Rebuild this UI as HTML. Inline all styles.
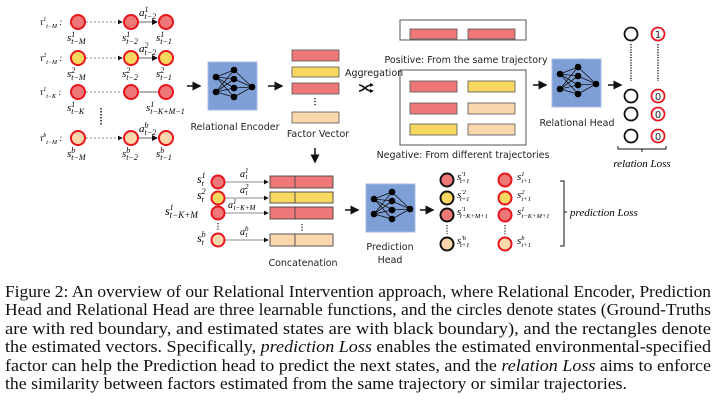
<!DOCTYPE html>
<html><head><meta charset="utf-8"><style>
html,body{margin:0;padding:0;background:#fff;width:720px;height:404px;overflow:hidden}
svg{display:block}
.s{font-family:"Liberation Serif",serif;font-style:italic;font-size:11px}
.l{font-family:"DejaVu Sans","Liberation Sans",sans-serif;font-size:9.5px;fill:#222}
.c{font-family:"Liberation Serif",serif;font-size:17px;fill:#111}
</style></head><body>
<svg width="720" height="404" viewBox="0 0 720 404" xmlns="http://www.w3.org/2000/svg">
<defs>
<marker id="a" markerWidth="6" markerHeight="6" refX="5" refY="3" orient="auto"><path d="M0,0L6,3L0,6z" fill="#111"/></marker>
<g id="net">
<rect x="0" y="0" width="49" height="48" fill="#7d9fd6" stroke="#a9bde6"/>
<g stroke="#111" stroke-width="0.8">
<path d="M8,15L26,8M8,15L26,17M8,15L26,26M8,15L26,35M8,30L26,8M8,30L26,17M8,30L26,26M8,30L26,35M26,8L44,25M26,17L44,25M26,26L44,25M26,35L44,25"/>
</g>
<g fill="#000"><circle cx="8" cy="15" r="3.3"/><circle cx="8" cy="30" r="3.3"/><circle cx="26" cy="8" r="3.3"/><circle cx="26" cy="17" r="3.3"/><circle cx="26" cy="26" r="3.3"/><circle cx="26" cy="35" r="3.3"/><circle cx="44" cy="25" r="3.3"/></g>
</g>
</defs>

<!-- left trajectories -->
<g stroke-width="2" stroke="#e8141c">
<circle cx="78" cy="22" r="7" fill="#ee7878"/><circle cx="131" cy="22" r="7" fill="#ee7878"/><circle cx="166" cy="22" r="7" fill="#ee7878"/>
<circle cx="78" cy="58" r="7" fill="#f8d860"/><circle cx="131" cy="58" r="7" fill="#f8d860"/><circle cx="166" cy="58" r="7" fill="#f8d860"/>
<circle cx="78" cy="92" r="7" fill="#ee7878"/><circle cx="131" cy="92" r="7" fill="#ee7878"/><circle cx="166" cy="92" r="7" fill="#ee7878"/>
<circle cx="78" cy="138" r="7" fill="#fbd7ad"/><circle cx="131" cy="138" r="7" fill="#fbd7ad"/><circle cx="166" cy="138" r="7" fill="#fbd7ad"/>
</g>
<g stroke="#666" stroke-width="0.8" stroke-dasharray="2,2">
<line x1="86" y1="22" x2="122" y2="22" marker-end="url(#a)"/><line x1="86" y1="58" x2="122" y2="58" marker-end="url(#a)"/><line x1="86" y1="92" x2="122" y2="92"/><line x1="86" y1="138" x2="122" y2="138" marker-end="url(#a)"/>
</g>
<g stroke="#666" stroke-width="1"><line x1="139" y1="22" x2="157" y2="22" marker-end="url(#a)"/><line x1="139" y1="58" x2="157" y2="58" marker-end="url(#a)"/><line x1="139" y1="92" x2="158" y2="92"/><line x1="139" y1="138" x2="157" y2="138" marker-end="url(#a)"/></g>
<line x1="101" y1="108" x2="101" y2="125" stroke="#111" stroke-width="1.5" stroke-dasharray="1.5,1.5"/>
<g class="s">
<text x="40" y="25" font-size="9">τ<tspan font-size="6" dy="-4">1</tspan><tspan font-size="6" dy="7">t−M</tspan><tspan dy="-3"> :</tspan></text>
<text x="40" y="61" font-size="9">τ<tspan font-size="6" dy="-4">2</tspan><tspan font-size="6" dy="7">t−M</tspan><tspan dy="-3"> :</tspan></text>
<text x="40" y="95" font-size="9">τ<tspan font-size="6" dy="-4">1</tspan><tspan font-size="6" dy="7">t−K</tspan><tspan dy="-3"> :</tspan></text>
<text x="40" y="141" font-size="9">τ<tspan font-size="6" dy="-4">b</tspan><tspan font-size="6" dy="7">t−M</tspan><tspan dy="-3"> :</tspan></text>
<text x="67" y="41">s<tspan font-size="8" dy="-4">1</tspan><tspan font-size="8" dx="-4" dy="7">t−M</tspan></text>
<text x="122" y="41">s<tspan font-size="8" dy="-4">1</tspan><tspan font-size="8" dx="-4" dy="7">t−2</tspan></text>
<text x="156" y="41">s<tspan font-size="8" dy="-4">1</tspan><tspan font-size="8" dx="-4" dy="7">t−1</tspan></text>
<text x="139" y="16">a<tspan font-size="8" dy="-4">1</tspan><tspan font-size="8" dx="-4" dy="7">t−2</tspan></text>
<text x="67" y="77">s<tspan font-size="8" dy="-4">2</tspan><tspan font-size="8" dx="-4" dy="7">t−M</tspan></text>
<text x="122" y="77">s<tspan font-size="8" dy="-4">2</tspan><tspan font-size="8" dx="-4" dy="7">t−2</tspan></text>
<text x="156" y="77">s<tspan font-size="8" dy="-4">2</tspan><tspan font-size="8" dx="-4" dy="7">t−1</tspan></text>
<text x="139" y="52">a<tspan font-size="8" dy="-4">2</tspan><tspan font-size="8" dx="-4" dy="7">t−2</tspan></text>
<text x="67" y="111">s<tspan font-size="8" dy="-4">1</tspan><tspan font-size="8" dx="-4" dy="7">t−K</tspan></text>
<text x="146" y="111">s<tspan font-size="8" dy="-4">1</tspan><tspan font-size="8" dx="-4" dy="7">t−K+M−1</tspan></text>
<text x="67" y="157">s<tspan font-size="8" dy="-4">b</tspan><tspan font-size="8" dx="-4" dy="7">t−M</tspan></text>
<text x="122" y="157">s<tspan font-size="8" dy="-4">b</tspan><tspan font-size="8" dx="-4" dy="7">t−2</tspan></text>
<text x="156" y="157">s<tspan font-size="8" dy="-4">b</tspan><tspan font-size="8" dx="-4" dy="7">t−1</tspan></text>
<text x="139" y="132">a<tspan font-size="8" dy="-4">b</tspan><tspan font-size="8" dx="-4" dy="7">t−2</tspan></text>
</g>

<!-- encoder -->
<g stroke="#111" stroke-width="1.5" marker-end="url(#a)">
<line x1="187" y1="86" x2="200" y2="86"/><line x1="268" y1="86" x2="282" y2="86"/>
<line x1="533" y1="85" x2="546" y2="85"/><line x1="608" y1="85" x2="621" y2="85"/>
<line x1="315" y1="148" x2="315" y2="162"/>
<line x1="345" y1="210" x2="358" y2="210"/><line x1="420" y1="210" x2="433" y2="210"/>
</g>
<use href="#net" x="208" y="62"/>
<text class="l" x="235" y="130" text-anchor="middle">Relational Encoder</text>
<g stroke="#555" stroke-width="0.8">
<rect x="292" y="50" width="47" height="11" fill="#ee7878"/><rect x="292" y="67" width="47" height="10" fill="#f8d860"/><rect x="292" y="83" width="47" height="11" fill="#ee7878"/><rect x="292" y="112" width="47" height="11" fill="#fbd7ad"/>
</g>
<line x1="315" y1="98" x2="315" y2="107" stroke="#111" stroke-width="1.3" stroke-dasharray="1.3,1.7"/>
<text class="l" x="318" y="137" text-anchor="middle">Factor Vector</text>
<text class="l" x="345" y="76" font-size="8.5">Aggregation</text>
<path d="M359,85 C364,85 366,91 371,91 M359,91 C364,91 366,85 371,85" stroke="#111" stroke-width="1.6" fill="none"/>
<path d="M370,83L374,85L370,87zM370,89L374,91L370,93z" fill="#111"/>

<!-- positive/negative -->
<g stroke="#555" stroke-width="1" fill="none"><rect x="400" y="20" width="126" height="20"/><rect x="400" y="70" width="126" height="75"/></g>
<g stroke="#555" stroke-width="0.8">
<rect x="410" y="29" width="47" height="10" fill="#ee7878"/><rect x="468" y="29" width="47" height="10" fill="#ee7878"/>
<rect x="410" y="81" width="47" height="11" fill="#ee7878"/><rect x="468" y="81" width="47" height="11" fill="#f8d860"/>
<rect x="410" y="103" width="47" height="11" fill="#ee7878"/><rect x="468" y="103" width="47" height="11" fill="#fbd7ad"/>
<rect x="410" y="124" width="47" height="11" fill="#f8d860"/><rect x="468" y="124" width="47" height="11" fill="#fbd7ad"/>
</g>
<text class="l" x="466" y="63" text-anchor="middle">Positive: From the same trajectory</text>
<text class="l" x="463" y="158" text-anchor="middle">Negative: From different trajectories</text>
<use href="#net" x="552" y="59"/>
<text class="l" x="577" y="126" text-anchor="middle">Relational Head</text>
<g fill="#fff" stroke="#111" stroke-width="1.8"><circle cx="631" cy="34" r="6.5"/><circle cx="631" cy="96" r="6.5"/><circle cx="631" cy="114" r="6.5"/><circle cx="631" cy="136" r="6.5"/></g>
<g fill="#fff" stroke="#e8141c" stroke-width="1.8"><circle cx="658" cy="34" r="6.5"/><circle cx="658" cy="96" r="6.5"/><circle cx="658" cy="114" r="6.5"/><circle cx="658" cy="136" r="6.5"/></g>
<g font-family="DejaVu Sans,sans-serif" font-size="10" text-anchor="middle" fill="#222"><text x="658" y="38">1</text><text x="658" y="100">0</text><text x="658" y="118">0</text><text x="658" y="140">0</text></g>
<g stroke="#111" stroke-width="1.3" stroke-dasharray="1.3,1.3"><line x1="631" y1="44" x2="631" y2="81"/><line x1="658" y1="44" x2="658" y2="81"/></g>
<path d="M618,146 v3 h24 v3 M642,149 h24 v-3" stroke="#111" fill="none"/>
<text class="s" x="642" y="167" text-anchor="middle" font-size="12">relation Loss</text>

<!-- bottom -->
<g stroke-width="2" stroke="#e8141c">
<circle cx="218" cy="182" r="6.5" fill="#ee7878"/><circle cx="218" cy="198" r="6.5" fill="#f8d860"/><circle cx="218" cy="213" r="6.5" fill="#ee7878"/><circle cx="218" cy="240" r="6.5" fill="#fbd7ad"/>
</g>
<g stroke="#666" stroke-width="0.8" marker-end="url(#a)"><line x1="225" y1="182" x2="268" y2="182"/><line x1="225" y1="198" x2="268" y2="198"/><line x1="225" y1="213" x2="268" y2="213"/><line x1="225" y1="240" x2="268" y2="240"/></g>
<line x1="218" y1="223" x2="218" y2="231" stroke="#111" stroke-width="1.2" stroke-dasharray="1.2,1.5"/>
<line x1="302" y1="224" x2="302" y2="232" stroke="#111" stroke-width="1.2" stroke-dasharray="1.2,1.5"/>
<g stroke="#444" stroke-width="0.9">
<rect x="270" y="176" width="63" height="12" fill="#ee7878"/><rect x="270" y="192" width="63" height="11" fill="#f8d860"/><rect x="270" y="207" width="63" height="12" fill="#ee7878"/><rect x="270" y="234" width="63" height="12" fill="#fbd7ad"/>
<line x1="295" y1="176" x2="295" y2="188"/><line x1="295" y1="192" x2="295" y2="203"/><line x1="295" y1="207" x2="295" y2="219"/><line x1="295" y1="234" x2="295" y2="246"/>
</g>
<text class="l" x="303" y="266" text-anchor="middle">Concatenation</text>
<g class="s">
<text x="197" y="183" font-size="12">s<tspan font-size="8" dy="-5">1</tspan><tspan font-size="8" dx="-4" dy="8">t</tspan></text>
<text x="197" y="199" font-size="12">s<tspan font-size="8" dy="-5">2</tspan><tspan font-size="8" dx="-4" dy="8">t</tspan></text>
<text x="165" y="215" font-size="12">s<tspan font-size="8" dy="-5">1</tspan><tspan font-size="9" dx="-4" dy="8">t−K+M</tspan></text>
<text x="197" y="242" font-size="12">s<tspan font-size="8" dy="-5">b</tspan><tspan font-size="8" dx="-4" dy="8">t</tspan></text>
<text x="240" y="177" font-size="10">a<tspan font-size="7" dy="-4">1</tspan><tspan font-size="7" dx="-3" dy="6">t</tspan></text>
<text x="240" y="193" font-size="10">a<tspan font-size="7" dy="-4">2</tspan><tspan font-size="7" dx="-3" dy="6">t</tspan></text>
<text x="228" y="208" font-size="10">a<tspan font-size="7" dy="-4">1</tspan><tspan font-size="7" dx="-3" dy="6">t−K+M</tspan></text>
<text x="240" y="235" font-size="10">a<tspan font-size="7" dy="-4">b</tspan><tspan font-size="7" dx="-3" dy="6">t</tspan></text>
</g>
<use href="#net" x="366" y="184"/>
<text class="l" x="390" y="250" text-anchor="middle">Prediction</text>
<text class="l" x="390" y="263" text-anchor="middle">Head</text>
<g stroke="#111" stroke-width="2"><circle cx="447" cy="180" r="6.5" fill="#ee7878"/><circle cx="447" cy="198" r="6.5" fill="#f8d860"/><circle cx="447" cy="215" r="6.5" fill="#ee7878"/><circle cx="447" cy="244" r="6.5" fill="#fbd7ad"/></g>
<g stroke="#e8141c" stroke-width="2"><circle cx="505" cy="180" r="6.5" fill="#ee7878"/><circle cx="505" cy="198" r="6.5" fill="#f8d860"/><circle cx="505" cy="215" r="6.5" fill="#ee7878"/><circle cx="505" cy="244" r="6.5" fill="#fbd7ad"/></g>
<g stroke="#111" stroke-width="1.2" stroke-dasharray="1.2,1.5"><line x1="447" y1="225" x2="447" y2="234"/><line x1="505" y1="225" x2="505" y2="234"/></g>
<g class="s" font-size="9">
<text x="457" y="180">s<tspan font-size="6.5" dy="-4">′1</tspan><tspan font-size="6.5" dx="-6" dy="7">t+1</tspan></text>
<text x="457" y="198">s<tspan font-size="6.5" dy="-4">′2</tspan><tspan font-size="6.5" dx="-6" dy="7">t+1</tspan></text>
<text x="457" y="215">s<tspan font-size="6.5" dy="-4">′1</tspan><tspan font-size="6.5" dx="-6" dy="7">t−K+M+1</tspan></text>
<text x="457" y="244">s<tspan font-size="6.5" dy="-4">′b</tspan><tspan font-size="6.5" dx="-6" dy="7">t+1</tspan></text>
<text x="517" y="180">s<tspan font-size="6.5" dy="-4">1</tspan><tspan font-size="6.5" dx="-3" dy="7">t+1</tspan></text>
<text x="517" y="198">s<tspan font-size="6.5" dy="-4">2</tspan><tspan font-size="6.5" dx="-3" dy="7">t+1</tspan></text>
<text x="517" y="215">s<tspan font-size="6.5" dy="-4">1</tspan><tspan font-size="6.5" dx="-3" dy="7">t−K+M+1</tspan></text>
<text x="517" y="244">s<tspan font-size="6.5" dy="-4">b</tspan><tspan font-size="6.5" dx="-3" dy="7">t+1</tspan></text>
</g>
<path d="M560,181 h4 v31 h3 M564,212 v34 h-4" stroke="#111" fill="none"/>
<text class="s" x="570" y="216" font-size="10.5">prediction Loss</text>

<!-- caption -->
<g class="c">
<text x="5" y="297" textLength="706" lengthAdjust="spacingAndGlyphs">Figure 2: An overview of our Relational Intervention approach, where Relational Encoder, Prediction</text>
<text x="5" y="315" textLength="706" lengthAdjust="spacingAndGlyphs">Head and Relational Head are three learnable functions, and the circles denote states (Ground-Truths</text>
<text x="5" y="334" textLength="706" lengthAdjust="spacingAndGlyphs">are with red boundary, and estimated states are with black boundary), and the rectangles denote</text>
<text x="5" y="352" textLength="706" lengthAdjust="spacingAndGlyphs">the estimated vectors. Specifically, <tspan font-style="italic">prediction Loss</tspan> enables the estimated environmental-specified</text>
<text x="5" y="371" textLength="706" lengthAdjust="spacingAndGlyphs">factor can help the Prediction head to predict the next states, and the <tspan font-style="italic">relation Loss</tspan> aims to enforce</text>
<text x="5" y="389" textLength="622" lengthAdjust="spacingAndGlyphs">the similarity between factors estimated from the same trajectory or similar trajectories.</text>
</g>
</svg>
</body></html>
